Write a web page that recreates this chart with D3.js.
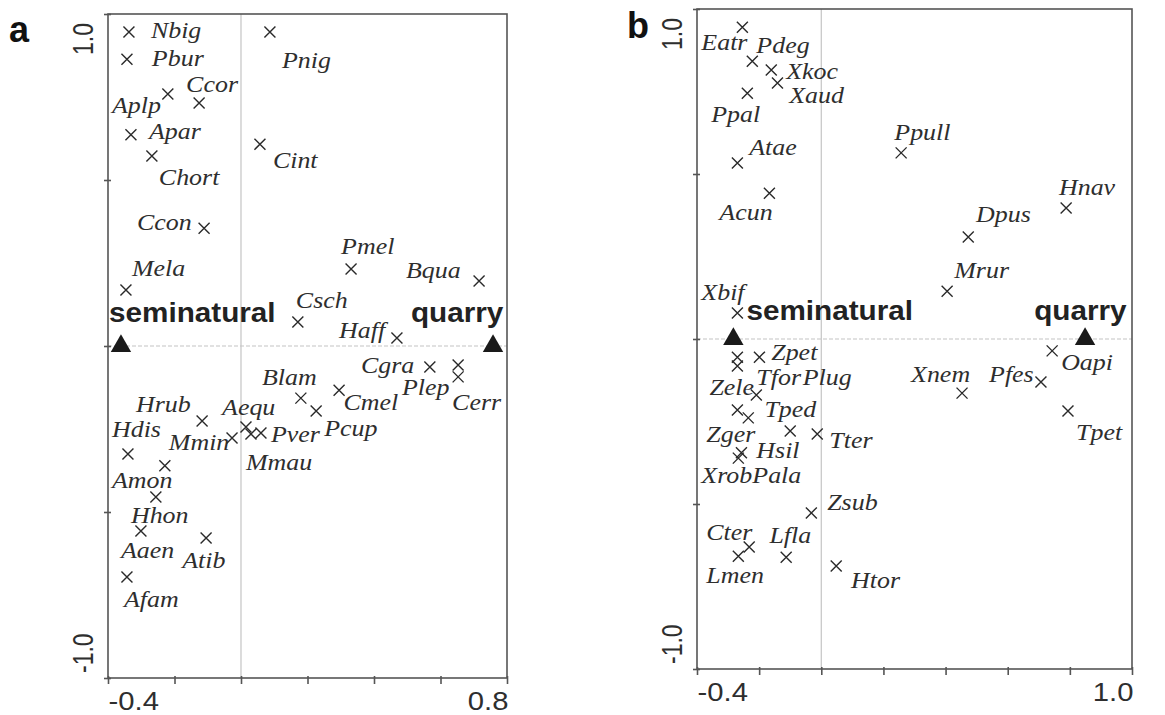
<!DOCTYPE html>
<html><head><meta charset="utf-8">
<script src="https://cdn.jsdelivr.net/npm/d3@7"></script>
<style>body{margin:0;background:#fff}</style>
</head><body><svg id="c" width="1165" height="715"></svg>
<script>
// ---------- Panel a data ----------
const aSpecies = ["Nbig","Pbur","Pnig","Aplp","Ccor","Apar","Chort","Cint","Ccon","Pmel","Bqua","Mela","Csch","Haff","Cgra","Plep","Cerr","Blam","Cmel","Pcup","Hrub","Mmin","Aequ","Mmau","Pver","Hdis","Amon","Hhon","Aaen","Atib","Afam"];
const aX = [-0.337,-0.343,0.087,-0.220,-0.126,-0.331,-0.268,0.057,-0.111,0.331,0.716,-0.346,0.171,0.469,0.568,0.653,0.653,0.180,0.295,0.226,-0.117,-0.027,0.015,0.030,0.060,-0.340,-0.229,-0.256,-0.301,-0.105,-0.343];
const aY = [0.946,0.864,0.946,0.759,0.732,0.636,0.572,0.608,0.355,0.232,0.196,0.169,0.072,0.024,-0.063,-0.057,-0.093,-0.157,-0.133,-0.196,-0.226,-0.277,-0.244,-0.265,-0.262,-0.325,-0.361,-0.455,-0.557,-0.578,-0.696];
const aLabX = [-0.271,-0.268,0.123,-0.388,-0.165,-0.277,-0.247,0.096,-0.313,0.301,0.496,-0.328,0.165,0.295,0.361,0.484,0.635,0.063,0.308,0.250,-0.316,-0.217,-0.057,0.015,0.090,-0.388,-0.388,-0.331,-0.361,-0.177,-0.352];
const aLabY = [0.928,0.843,0.837,0.702,0.765,0.623,0.485,0.536,0.349,0.277,0.205,0.211,0.114,0.024,-0.081,-0.148,-0.193,-0.117,-0.194,-0.272,-0.199,-0.313,-0.208,-0.373,-0.289,-0.274,-0.428,-0.533,-0.639,-0.669,-0.786];
const aSites = ["seminatural","quarry"];
const aSiteX = [-0.361, 0.758];
const aSiteY = [0, 0];
const aSiteLabX = [-0.397, 0.511];
const aSiteLabY = [0.072, 0.072];
const aXTicks = [-0.4,-0.2,0,0.2,0.4,0.6,0.8];
const aXTickLabels = ["-0.4","","","","","","0.8"];

// ---------- Panel b data ----------
const bSpecies = ["Eatr","Pdeg","Xkoc","Xaud","Ppal","Ppull","Atae","Acun","Hnav","Dpus","Mrur","Xbif","Tfor","Plug","Zpet","Zele","Tped","Zger","Pala","Tter","Hsil","Xrob","Oapi","Xnem","Pfes","Tpet","Zsub","Cter","Lmen","Lfla","Htor"];
const bX = [-0.254,-0.222,-0.161,-0.141,-0.238,0.257,-0.270,-0.167,0.788,0.473,0.405,-0.270,-0.270,-0.270,-0.199,-0.209,-0.270,-0.235,-0.100,-0.013,-0.257,-0.267,0.743,0.453,0.707,0.794,-0.032,-0.232,-0.267,-0.113,0.048];
const bY = [0.945,0.842,0.815,0.776,0.745,0.564,0.533,0.442,0.397,0.309,0.145,0.079,-0.055,-0.082,-0.055,-0.170,-0.215,-0.239,-0.279,-0.288,-0.345,-0.361,-0.036,-0.164,-0.130,-0.218,-0.527,-0.630,-0.658,-0.661,-0.688];
const bLabX = [-0.386,-0.209,-0.113,-0.103,-0.354,0.235,-0.232,-0.328,0.765,0.498,0.428,-0.386,-0.209,-0.060,-0.161,-0.360,-0.183,-0.370,-0.222,0.026,-0.209,-0.386,0.772,0.289,0.540,0.820,0.019,-0.370,-0.370,-0.167,0.096];
const bLabY = [0.876,0.867,0.788,0.714,0.658,0.603,0.558,0.361,0.436,0.355,0.185,0.118,-0.139,-0.139,-0.064,-0.170,-0.236,-0.312,-0.436,-0.330,-0.361,-0.436,-0.094,-0.130,-0.130,-0.306,-0.518,-0.609,-0.739,-0.618,-0.755];
const bSites = ["seminatural","quarry"];
const bSiteX = [-0.283, 0.849];
const bSiteY = [0, 0];
const bSiteLabX = [-0.241, 0.685];
const bSiteLabY = [0.058, 0.058];
const bXTicks = [-0.4,-0.2,0,0.2,0.4,0.6,0.8,1.0];
const bXTickLabels = ["-0.4","","","","","","","1.0"];

const yTicks = [-1,-0.5,0,0.5,1];
const yTickLabels = ["-1.0","","","","1.0"];

// ---------- drawing ----------
const svg = d3.select("#c");
svg.append("rect").attr("width",1165).attr("height",715).attr("fill","#fff");

function stretch(sel, k){
  sel.each(function(){
    const L = this.getComputedTextLength();
    this.setAttribute("textLength", L*k);
    this.setAttribute("lengthAdjust","spacingAndGlyphs");
  });
}

function panel(cfg){
  const x = d3.scaleLinear().domain(cfg.xDomain).range([cfg.left, cfg.right]);
  const y = d3.scaleLinear().domain([-1,1]).range([cfg.bottom, cfg.top]);
  const g = svg.append("g");

  // zero lines
  g.append("line").attr("x1",x(0)).attr("x2",x(0)).attr("y1",cfg.top).attr("y2",cfg.bottom)
    .attr("stroke","#c4c4c4").attr("stroke-width",1.2);
  g.append("line").attr("x1",cfg.left).attr("x2",cfg.right).attr("y1",y(0)).attr("y2",y(0))
    .attr("stroke","#c4c4c4").attr("stroke-width",1.2).attr("stroke-dasharray","4,2");

  // frame
  g.append("rect").attr("x",cfg.left).attr("y",cfg.top)
    .attr("width",cfg.right-cfg.left).attr("height",cfg.bottom-cfg.top)
    .attr("fill","none").attr("stroke","#555").attr("stroke-width",1.6);

  // x axis
  const xa = g.append("g").attr("transform",`translate(0,${cfg.bottom})`)
    .call(d3.axisBottom(x).tickValues(cfg.xTicks).tickSizeInner(6).tickSizeOuter(0)
      .tickFormat((d,i)=>cfg.xTickLabels[i]));
  xa.select(".domain").remove();
  xa.selectAll(".tick line").attr("stroke","#555").attr("stroke-width",1.6).attr("y1",-2);
  xa.selectAll(".tick text").attr("y",32).attr("dy",0)
    .attr("font-family","Liberation Sans, Arial, sans-serif").attr("font-size",25).attr("fill","#2e2e2e")
    .attr("text-anchor",(d,i)=> i===0 ? "start" : "end")
    .attr("dx",(d,i)=> i===0 ? 0 : 1);
  stretch(xa.selectAll(".tick text").filter(function(){return this.textContent!=="";}), 1.17);

  // y axis
  const ya = g.append("g").attr("transform",`translate(${cfg.left},0)`)
    .call(d3.axisLeft(y).tickValues(yTicks).tickSizeInner(4).tickSizeOuter(0).tickFormat(""));
  ya.select(".domain").remove();
  ya.selectAll(".tick line").attr("stroke","#555").attr("stroke-width",1.6).attr("x2",-4).attr("x1",3);
  yTicks.forEach((v,i)=>{
    if(!yTickLabels[i]) return;
    const top = v>0;
    g.append("text")
      .attr("transform",`translate(${cfg.left-15},${top ? cfg.top+9 : cfg.bottom-5}) rotate(-90) scale(1,1.25)`)
      .attr("text-anchor", top ? "end" : "start")
      .attr("font-family","Liberation Sans, Arial, sans-serif").attr("font-size",23).attr("fill","#2e2e2e")
      .text(yTickLabels[i]);
  });

  // species markers
  const r = 5.5;
  g.selectAll("path.sp").data(cfg.sp).join("path").attr("class","sp")
    .attr("d",d=>`M${x(d.x)-r},${y(d.y)-r}L${x(d.x)+r},${y(d.y)+r}M${x(d.x)-r},${y(d.y)+r}L${x(d.x)+r},${y(d.y)-r}`)
    .attr("stroke","#2a2a2a").attr("stroke-width",1.4).attr("fill","none");
  const lab = g.selectAll("text.sp").data(cfg.sp).join("text").attr("class","sp")
    .attr("x",d=>x(d.lx)).attr("y",d=>y(d.ly))
    .attr("font-family","Liberation Serif, Times New Roman, serif").attr("font-style","italic")
    .attr("font-size",24).attr("fill","#2e2e2e").text(d=>d.name);
  stretch(lab, 1.08);

  // sites
  g.selectAll("path.site").data(cfg.sites).join("path").attr("class","site")
    .attr("transform",d=>`translate(${x(d.x)},${y(d.y)})`)
    .attr("d",d3.symbol(d3.symbolTriangle,180)).attr("fill","#1a1a1a");
  const sl = g.selectAll("text.site").data(cfg.sites).join("text").attr("class","site")
    .attr("x",d=>x(d.lx)).attr("y",d=>y(d.ly))
    .attr("font-family","Liberation Sans, Arial, sans-serif").attr("font-weight","bold")
    .attr("font-size",28).attr("fill","#222").text(d=>d.name);
  stretch(sl, 1.06);

  // panel letter
  svg.append("text").attr("x",cfg.letterX).attr("y",cfg.letterY)
    .attr("font-family","Liberation Sans, Arial, sans-serif").attr("font-weight","bold")
    .attr("font-size",36).attr("fill","#111").text(cfg.letter);
}

function rows(names,xs,ys,lxs,lys){ return names.map((n,i)=>({name:n,x:xs[i],y:ys[i],lx:lxs[i],ly:lys[i]})); }

panel({letter:"a", letterX:9, letterY:42, left:108, right:507, top:14, bottom:678,
  xDomain:[-0.4,0.8], xTicks:aXTicks, xTickLabels:aXTickLabels,
  sp:rows(aSpecies,aX,aY,aLabX,aLabY), sites:rows(aSites,aSiteX,aSiteY,aSiteLabX,aSiteLabY)});
panel({letter:"b", letterX:627, letterY:38, left:697, right:1132, top:9, bottom:669,
  xDomain:[-0.4,1.0], xTicks:bXTicks, xTickLabels:bXTickLabels,
  sp:rows(bSpecies,bX,bY,bLabX,bLabY), sites:rows(bSites,bSiteX,bSiteY,bSiteLabX,bSiteLabY)});
</script></body></html>
